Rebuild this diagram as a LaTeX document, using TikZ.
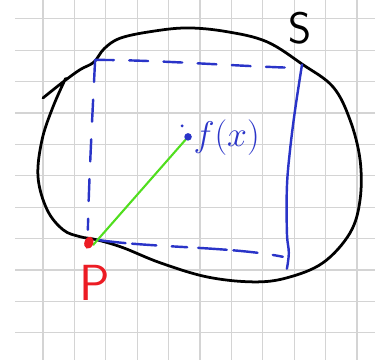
\documentclass[tikz,border=0pt]{standalone}
\usepackage{tikz}

\definecolor{azul}{RGB}{42,52,200}
\definecolor{verde}{RGB}{80,222,30}
\definecolor{rojo}{RGB}{236,28,36}
\definecolor{cuadricula}{RGB}{212,212,212}

\begin{document}
\begin{tikzpicture}[
        linea/.style={line width=2.5pt, line cap=round, line join=round},
        trazo/.style={azul, line width=2.2pt, line cap=round},
        letra/.style={inner sep=0pt, font=\sffamily}
    ]
        \useasboundingbox (-1.37,-0.86) rectangle (10.99,10.6);

        % Cuadricula
        \foreach \y in {0,...,10}
            \draw[cuadricula, line width=1.1pt] (-0.89,\y) -- (10.57,\y);
        \foreach \x in {0,...,10}
            \draw[cuadricula, line width=1.1pt] (\x,-0.86) -- (\x,10.6);

        % Conjunto S
        \draw[linea] plot[smooth, tension=0.6] coordinates {
            (0,7.48) (0.64,7.99) (1.18,8.38) (1.62,8.62) (1.95,9.05)
            (2.45,9.38) (3.41,9.59) (4.59,9.71) (5.86,9.59) (7.13,9.27)
            (8.28,8.54) (9.24,7.83) (9.78,6.78) (10.10,5.51) (10.10,4.24)
            (9.78,3.18) (8.92,2.23) (7.77,1.75) (6.69,1.62) (5.22,1.78)
            (3.73,2.23) (2.55,2.71) (1.72,2.96) (1.18,3.06) (0.64,3.28)
            (0.13,3.92) (-0.16,4.97) (-0.03,6.15) (0.32,7.20) (0.72,8.10)};
        \node[letra, font=\sffamily\fontsize{40}{40}\selectfont] (s) at (8.18,9.71) {S};

        % Cuadrado azul
        \draw[trazo, dash pattern=on 17pt off 14pt]
            (1.66,8.69) .. controls (3.5,8.7) and (6,8.5) .. (7.96,8.44);
        \draw[trazo, dash pattern=on 20pt off 16pt]
            (1.66,8.69) .. controls (1.55,6.5) and (1.45,4.5) .. (1.43,3.28);
        \draw[trazo, dash pattern=on 26pt off 6pt on 22pt off 14pt on 14pt off 10pt]
            (1.72,2.96) .. controls (3.5,2.7) and (6,2.75) .. (7.64,2.42);
        \draw[trazo] plot[smooth, tension=0.6] coordinates {
            (8.25,8.54) (8.03,7.10) (7.87,5.83) (7.77,4.65) (7.77,3.18)
            (7.83,2.55) (7.77,2.04)};

        % Punto p y f(x)
        \coordinate (p) at (1.6,2.8);
        \coordinate (fx) at (4.62,6.24);
        \draw[verde, line width=1.9pt, line cap=round] (p) -- (fx);
        \fill[rojo, rotate around={-20:(1.46,2.87)}] (1.46,2.87) ellipse (0.14 and 0.2);
        \fill[azul] (fx) circle (0.12);
        \fill[azul] (4.43,6.59) circle (0.05);
        \node[letra, azul, font=\Huge, scale=1.3] (etiq) at (5.85,6.22) {$f(x)$};
        \node[letra, rojo, font=\sffamily\fontsize{46}{46}\selectfont] (etiqp) at (1.66,1.59) {P};
    \end{tikzpicture}
\end{document}
